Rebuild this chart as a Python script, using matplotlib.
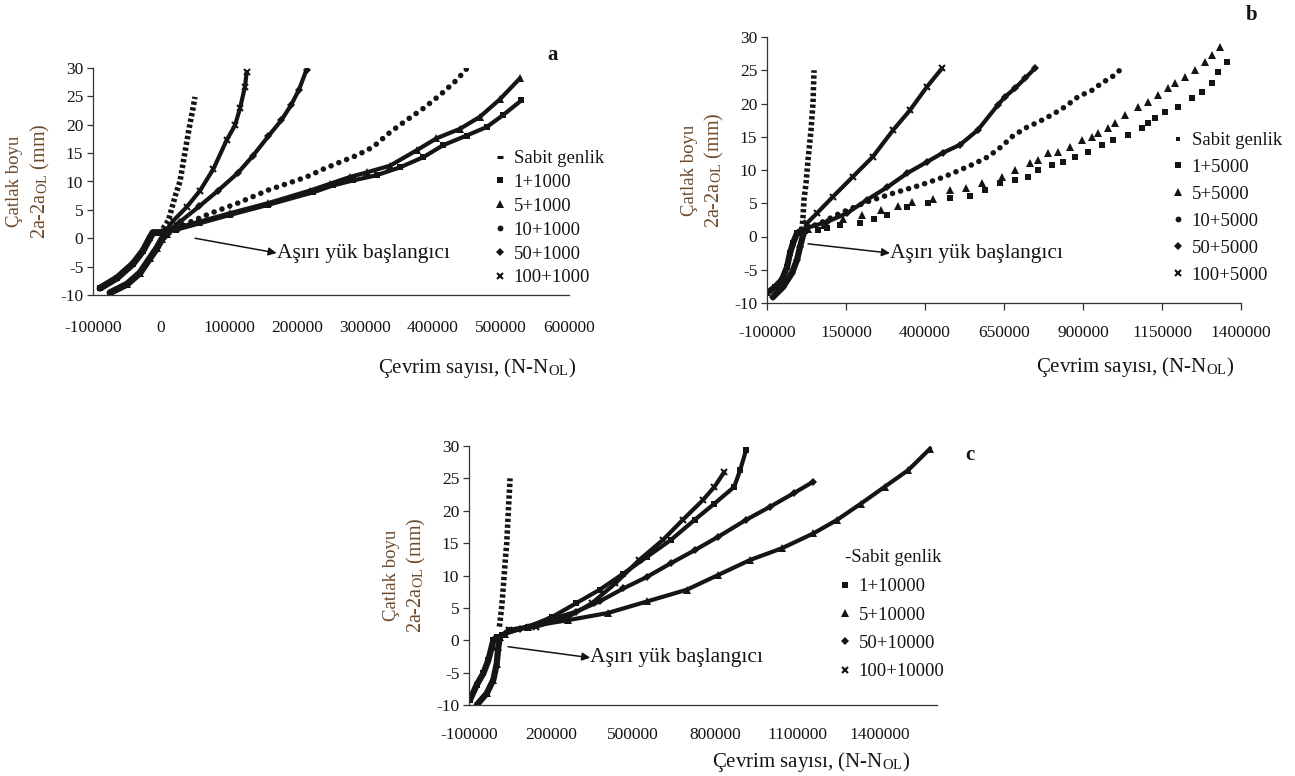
import matplotlib
matplotlib.use("Agg")
import matplotlib.pyplot as plt
from matplotlib.lines import Line2D

plt.rcParams["font.family"] = ["Liberation Serif", "DejaVu Serif"]
plt.rcParams["mathtext.fontset"] = "stix"
plt.rcParams["axes.unicode_minus"] = False

W, H = 1295, 776
INK = "#151515"
YLAB = "#6b4a2b"

# ── data (x = N - N_OL cycles, y = 2a - 2a_OL mm) ──────────────────────────

# panel a : overload every 1000 cycles
a_pre_up_x = [-89700, -64700, -41200, -26500, -16200, -11800, -1500, 8800]
a_pre_up_y = [-8.8, -7.0, -4.5, -2.2, 0.1, 1.0, 1.0, 1.3]
a_pre_lo_x = [-75000, -50000, -30900, -16200, -5900, 1500, 8800]
a_pre_lo_y = [-9.6, -8.1, -6.1, -3.5, -1.7, -0.1, 0.8]
a_sabit_x = [2900, 10800, 15700, 21000, 27900, 35300, 42600, 46500, 50000]
a_sabit_y = [1.7, 3.1, 5.2, 7.5, 10.0, 15.2, 20.2, 22.5, 24.9]
a_1_x = [10000, 22500, 56000, 101000, 158000, 224000, 253000, 283000, 317000,
         351500, 386000, 415000, 449500, 479000, 503000, 530000]
a_1_y = [1.1, 1.5, 2.6, 4.1, 5.9, 8.1, 9.3, 10.2, 11.1, 12.5, 14.3, 16.4, 18.1,
         19.6, 21.7, 24.3]
a_5_x = [10000, 22500, 56000, 101000, 158000, 219000, 248500, 278000, 302500,
         337000, 376000, 405000, 440000, 469000, 498500, 528000]
a_5_y = [1.2, 1.8, 2.9, 4.4, 6.2, 8.4, 9.6, 10.8, 11.6, 12.8, 15.5, 17.6, 19.3,
         21.4, 24.5, 28.2]
a_10_x = [11000, 34000, 73000, 113000, 158000, 214000, 239000, 263000, 288000,
          312000, 337000, 361000, 386000, 410000, 435000, 452000]
a_10_y = [0.9, 2.4, 4.4, 6.2, 8.5, 10.8, 12.2, 13.4, 14.6, 16.1, 18.7, 20.8, 22.9,
          25.2, 27.9, 30.2]
a_50_x = [5000, 28000, 56000, 84000, 113000, 135000, 158000, 177000, 191500,
          203000, 214000]
a_50_y = [0.6, 2.9, 5.6, 8.4, 11.5, 14.5, 18.0, 20.8, 23.5, 26.2, 29.7]
a_100_x = [5000, 18100, 37800, 57400, 77000, 96600, 108800, 116200, 123500, 126000]
a_100_y = [1.0, 3.1, 5.5, 8.4, 12.2, 17.3, 19.9, 22.9, 26.7, 29.3]

# panel b : overload every 5000 cycles
b_pre_up_x = [-100000, -74700, -52500, -36700, -27200, -17700, -5000, 10800]
b_pre_up_y = [-8.5, -7.6, -6.5, -4.6, -2.5, -1.0, 0.5, 1.0]
b_pre_lo_x = [-81000, -49400, -21000, -5000, 4500, 14000]
b_pre_lo_y = [-9.1, -7.6, -5.5, -3.5, -1.6, 0.2]
b_sabit_x = [10800, 14000, 17000, 23500, 29800, 39300, 45600, 48800]
b_sabit_y = [1.0, 2.9, 5.5, 8.0, 11.5, 16.0, 20.1, 25.0]
b_1_x = [20000, 60000, 90000, 131000, 194000, 240000, 280000, 343000, 410000,
         479000, 541000, 590000, 637000, 685000, 726000, 758000, 802000, 837000,
         875000, 916000, 960000, 995000, 1043000, 1087000, 1106000, 1128000,
         1160000, 1201000, 1245000, 1277000, 1308000, 1327000, 1355000]
b_1_y = [0.8, 1.0, 1.3, 1.7, 2.0, 2.6, 3.2, 4.4, 5.0, 5.8, 6.1, 7.0, 8.0, 8.5,
         8.9, 10.0, 10.8, 11.2, 12.0, 12.7, 13.8, 14.5, 15.3, 16.3, 17.1, 17.8,
         18.7, 19.5, 20.8, 21.7, 23.1, 24.7, 26.2]
b_5_x = [30000, 80000, 140000, 200000, 260000, 316000, 359000, 425000, 479000,
         530000, 580000, 644000, 685000, 732000, 758000, 790000, 821000, 859000,
         897000, 929000, 948000, 979000, 1001000, 1033000, 1074000, 1106000,
         1137000, 1169000, 1191000, 1223000, 1255000, 1286000, 1308000, 1335000]
b_5_y = [1.2, 1.8, 2.6, 3.3, 4.0, 4.6, 5.2, 5.6, 7.0, 7.3, 8.0, 8.9, 10.0, 11.1,
         11.5, 12.5, 12.7, 13.5, 14.5, 15.0, 15.6, 16.3, 17.1, 18.3, 19.5, 20.2,
         21.3, 22.3, 23.1, 24.0, 25.0, 26.2, 27.3, 28.5]
b_10_x = [26600, 68000, 131000, 216000, 299000, 384000, 457000, 511000, 554000,
          600000, 644000, 675000, 717000, 758000, 802000, 843000, 884000, 929000,
          960000, 992000, 1023600]
b_10_y = [1.3, 2.0, 3.5, 5.2, 6.5, 7.7, 8.9, 10.0, 10.9, 12.0, 13.6, 15.0, 16.3,
          17.2, 18.3, 19.5, 21.0, 22.0, 23.1, 24.0, 25.3]
b_50_x = [26600, 90000, 153000, 216000, 280000, 343000, 406000, 457000, 511000,
          567000, 631000, 653000, 685000, 717000, 748000]
b_50_y = [1.3, 2.2, 3.5, 5.5, 7.4, 9.5, 11.2, 12.6, 13.8, 16.0, 19.8, 21.0, 22.3,
          23.8, 25.3]
b_100_x = [26600, 58000, 109000, 172000, 235000, 299000, 352600, 406000, 454000]
b_100_y = [2.0, 3.5, 6.0, 9.0, 12.0, 16.0, 19.0, 22.5, 25.3]

# panel c : overload every 10000 cycles
c_pre_up_x = [-96300, -71800, -47600, -29400, -17000, -11000, 1300]
c_pre_up_y = [-9.2, -6.9, -5.1, -3.1, -1.0, 0.0, 0.5]
c_pre_lo_x = [-71800, -35200, -11000, 1300, 7200, 13400]
c_pre_lo_y = [-10.0, -8.2, -6.1, -3.6, -1.0, 0.5]
c_sabit_x = [11100, 19600, 25500, 31700, 37900, 43900, 47000, 50000]
c_sabit_y = [2.1, 5.2, 8.3, 11.9, 15.0, 20.1, 22.5, 25.0]
c_1_x = [20000, 44600, 117000, 203800, 290600, 377400, 464200, 551000, 637800,
         724600, 796800, 869200, 890900, 912600]
c_1_y = [0.8, 1.6, 2.1, 3.6, 5.7, 7.8, 10.3, 12.9, 15.5, 18.6, 21.1, 23.7, 26.3, 29.4]
c_5_x = [30000, 117000, 261600, 406300, 551000, 695600, 811400, 927100, 1042800,
         1158500, 1245300, 1332000, 1418800, 1505700, 1585000]
c_5_y = [1.0, 2.1, 3.1, 4.2, 6.0, 7.8, 10.1, 12.4, 14.2, 16.5, 18.6, 21.1, 23.7,
         26.3, 29.6]
c_50_x = [30000, 88000, 189300, 290600, 377400, 464200, 551000, 637800, 724600,
          811400, 912600, 999400, 1086100, 1158500]
c_50_y = [1.0, 1.8, 3.1, 4.4, 6.0, 8.0, 9.8, 11.9, 13.9, 16.0, 18.6, 20.6, 22.7, 24.5]
c_100_x = [44600, 146000, 261600, 348400, 435200, 522000, 608800, 681100, 753500,
           796800, 833000]
c_100_y = [1.6, 2.1, 3.6, 5.7, 8.8, 12.4, 15.5, 18.6, 21.6, 23.7, 26.0]

LEG_A = ["Sabit genlik", "1+1000", "5+1000", "10+1000", "50+1000", "100+1000"]
LEG_B = ["Sabit genlik", "1+5000", "5+5000", "10+5000", "50+5000", "100+5000"]
LEG_C = ["-Sabit genlik", "1+10000", "5+10000", "50+10000", "100+10000"]


def fx(px):
    return px / W


def fy(py):
    return 1 - py / H


def rect(l, t, r, b):
    return [l / W, 1 - b / H, (r - l) / W, (b - t) / H]


MK = {"sabit": dict(marker="_", ms=5, mew=2.2),
      "sabit_sq": dict(marker="s", ms=3.0, mew=0),
      "sq": dict(marker="s", ms=4.8, mew=0),
      "tri": dict(marker="^", ms=5.6, mew=0),
      "dot": dict(marker="o", ms=4.2, mew=0),
      "dia": dict(marker="D", ms=4.2, mew=0),
      "x": dict(marker="x", ms=5, mew=1.5)}


def series(ax, x, y, kind, mode="line", lw=3.0):
    if mode == "line":        # dense run of markers -> thick band
        ax.plot(x, y, ls="-", lw=lw, color=INK, solid_joinstyle="round",
                solid_capstyle="round", **MK[kind])
    elif mode == "chain":     # chain of separate dots
        ax.plot(x, y, ls=(0, (0.01, 1.5)), lw=4.0, color=INK,
                dash_capstyle="round")
    elif mode == "dash":      # stacked short dashes (constant amplitude)
        ax.plot(x, y, ls=(0, (0.6, 0.45)), lw=4.0, color=INK,
                dash_capstyle="butt")
    else:                     # separate markers only
        ax.plot(x, y, ls="none", color=INK, **MK[kind])


def style_axis(ax, xlim, xticks, xpad, marks=None):
    ax.set_xlim(*xlim)
    ax.set_ylim(-10, 30)
    ax.set_yticks(range(-10, 31, 5))
    ax.set_xticks(xticks)
    ax.set_xticklabels([str(v) for v in xticks])
    ax.tick_params(axis="x", length=5 if marks is None else 0, width=0.9,
                   color="#333333", pad=xpad, labelsize=12.5, labelcolor=INK)
    ax.tick_params(axis="y", length=4, width=0.9, color="#333333", pad=3,
                   labelsize=12.5, labelcolor=INK)
    if marks is not None:
        ax.set_xticks(marks, minor=True)
        ax.tick_params(axis="x", which="minor", length=5, width=0.9, color="#333333")
    for s in ("top", "right"):
        ax.spines[s].set_visible(False)
    for s in ("left", "bottom"):
        ax.spines[s].set_color("#333333")
        ax.spines[s].set_linewidth(0.9)
    ax.patch.set_alpha(0)


def ylabels(fig, left, top, bottom):
    yc = fy((top + bottom) / 2)
    fig.text(fx(left - 78), yc, "Çatlak boyu", rotation=90, ha="center",
             va="center", fontsize=13.5, color=YLAB)
    fig.text(fx(left - 53), yc, "2a-2a$_{\\mathregular{OL}}$ (mm)", rotation=90,
             ha="center", va="center", fontsize=14.5, color=YLAB)


def xlabel(fig, cx, cy):
    fig.text(fx(cx), fy(cy), "Çevrim sayısı, (N-N$_{\\mathregular{OL}}$)",
             ha="center", va="center", fontsize=15, color=INK)


def legend(ax, kinds, labels, left, top, spacing):
    handles = [Line2D([], [], ls="none", color=INK, **MK[k]) for k in kinds]
    ax.legend(handles, labels, loc="upper left", frameon=False,
              bbox_to_anchor=(fx(left), fy(top)), bbox_transform=ax.figure.transFigure,
              borderpad=0, borderaxespad=0, handlelength=0.6, handletextpad=0.45,
              labelspacing=spacing, fontsize=13.5, labelcolor=INK)


def overload_note(ax, tail, head):
    ax.annotate("", xy=head, xytext=tail,
                arrowprops=dict(arrowstyle="-|>", lw=1.1, color=INK,
                                mutation_scale=12, shrinkA=0, shrinkB=0))
    ax.text(head[0], head[1], "Aşırı yük başlangıcı", ha="left", va="center",
            fontsize=15.5, color=INK)


fig = plt.figure(figsize=(W / 100, H / 100), dpi=100)

# ── a ────────────────────────────────────────────────────────────────────────
ax = fig.add_axes(rect(93, 68, 569, 295))
style_axis(ax, (-100000, 600000), list(range(-100000, 600001, 100000)), 18,
           marks=[0, 100000, 200000, 300000, 400000, 600000])
series(ax, a_pre_up_x, a_pre_up_y, "sq", lw=5)
series(ax, a_pre_lo_x, a_pre_lo_y, "tri", lw=5)
series(ax, a_1_x, a_1_y, "sq")
series(ax, a_5_x, a_5_y, "tri")
series(ax, a_10_x, a_10_y, "dot", mode="chain")
series(ax, a_50_x, a_50_y, "dia")
series(ax, a_100_x, a_100_y, "x")
series(ax, a_sabit_x, a_sabit_y, "sabit", mode="dash")
overload_note(ax, (50000, 0.0), (170000, -2.6))
legend(ax, ["sabit", "sq", "tri", "dot", "dia", "x"], LEG_A, 494, 150, 0.36)
ylabels(fig, 93, 68, 295)
xlabel(fig, 477, 368)
fig.text(fx(553), fy(55), "a", ha="center", va="center", fontsize=15,
         fontweight="bold", color=INK)

# ── b ────────────────────────────────────────────────────────────────────────
ax = fig.add_axes(rect(767, 37, 1241, 303))
style_axis(ax, (-100000, 1400000), list(range(-100000, 1400001, 250000)), 11)
series(ax, b_pre_up_x, b_pre_up_y, "sq", lw=4.5)
series(ax, b_pre_lo_x, b_pre_lo_y, "dia", lw=4.5)
series(ax, b_1_x, b_1_y, "sq", mode="marks")
series(ax, b_5_x, b_5_y, "tri", mode="marks")
series(ax, b_10_x, b_10_y, "dot", mode="chain")
series(ax, b_50_x, b_50_y, "dia")
series(ax, b_100_x, b_100_y, "x")
series(ax, b_sabit_x, b_sabit_y, "sabit_sq", mode="dash")
overload_note(ax, (29800, -1.1), (289000, -2.5))
legend(ax, ["sabit_sq", "sq", "tri", "dot", "dia", "x"], LEG_B, 1172, 132, 0.52)
ylabels(fig, 767, 37, 303)
xlabel(fig, 1135, 367)
fig.text(fx(1252), fy(15), "b", ha="center", va="center", fontsize=15,
         fontweight="bold", color=INK)

# ── c ────────────────────────────────────────────────────────────────────────
ax = fig.add_axes(rect(469, 446, 937, 705))
style_axis(ax, (-100000, 1610000), list(range(-100000, 1400001, 300000)), 16,
           marks=[-100000, 500000, 1400000])
series(ax, c_pre_up_x, c_pre_up_y, "sq", lw=4.5)
series(ax, c_pre_lo_x, c_pre_lo_y, "tri", lw=4.5)
series(ax, c_5_x, c_5_y, "tri")
series(ax, c_50_x, c_50_y, "dia")
series(ax, c_1_x, c_1_y, "sq")
series(ax, c_100_x, c_100_y, "x")
series(ax, c_sabit_x, c_sabit_y, "sabit", mode="dash")
overload_note(ax, (42900, -1.0), (343000, -2.7))
legend(ax, ["sq", "tri", "dia", "x"], LEG_C[1:], 839, 578, 0.6)
fig.text(fx(845), fy(557), LEG_C[0], ha="left", va="center", fontsize=13.5,
         color=INK)
ylabels(fig, 469, 446, 705)
xlabel(fig, 811, 762)
fig.text(fx(970), fy(455), "c", ha="center", va="center", fontsize=15,
         fontweight="bold", color=INK)

fig.savefig("out.png", dpi=100)
